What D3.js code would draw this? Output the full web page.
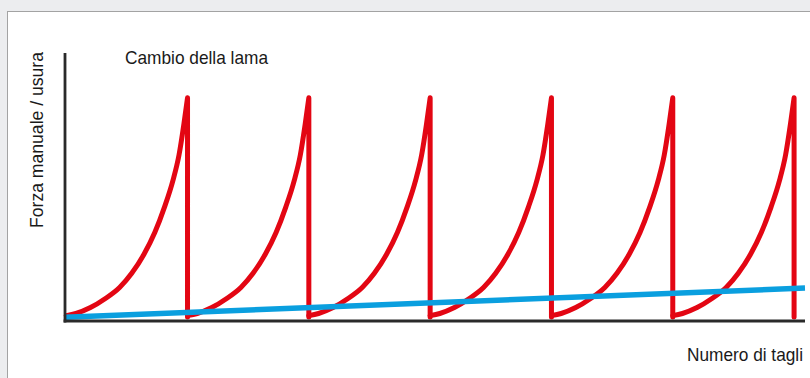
<!DOCTYPE html>
<html>
<head>
<meta charset="utf-8">
<script src="https://cdn.jsdelivr.net/npm/d3@7"></script>
<style>
  html, body { margin: 0; padding: 0; background: #ECEDEF; }
  svg { display: block; }
  text { font-family: "Liberation Sans Narrow", "Arial Narrow", "Liberation Sans", sans-serif; fill: #1a1a1a; }
</style>
</head>
<body>
<script>
// ---- Data ----
const bladeChangePeaks = [1.01, 2.01, 3.01, 4.01, 5.01, 6.01];          // number of cuts at which blade is changed
const toothOffsets = [-1.0, -0.92, -0.80, -0.68, -0.56, -0.46, -0.36, -0.27, -0.19, -0.12, -0.07, -0.03, 0]; // cuts relative to change
const toothForce   = [2.0, 2.8, 5.0, 8.3, 12.5, 17.8, 24.8, 33.0, 42.5, 52.5, 62.0, 73.5, 83.3];             // manual force
const dropForce = 1.5;                     // force right after blade change
const wearCuts = [0, 6.1];                 // wear line x
const wearValues = [1.4, 12.3];            // wear line y
const labels = { title: "Cambio della lama", yLabel: "Forza manuale / usura", xLabel: "Numero di tagli" };

// ---- Layout ----
const W = 810, H = 378;
const svg = d3.select("body").append("svg").attr("width", W).attr("height", H);

// panel frame
svg.append("rect").attr("x", 0).attr("y", 0).attr("width", W).attr("height", H).attr("fill", "#ECEDEF");
svg.append("rect").attr("x", 7.5).attr("y", 11.5).attr("width", W + 20).attr("height", H + 20)
  .attr("fill", "#ffffff").attr("stroke", "#a3a3a3").attr("stroke-width", 1);

const x = d3.scaleLinear().domain([0, 6.1]).range([65, 805]);
const y = d3.scaleLinear().domain([0, 100]).range([321, 53]);

// red sawtooth (force)
const rise = d3.line().x(d => x(d[0])).y(d => y(d[1])).curve(d3.curveMonotoneX);
const g = svg.append("g");
bladeChangePeaks.forEach((p, i) => {
  const pts = toothOffsets.map((o, j) => [Math.max(0, p + o), toothForce[j]]);
  const d = rise(pts) + "L" + x(p) + "," + y(dropForce);
  g.append("path").attr("d", d).attr("fill", "none")
    .attr("stroke", "#E30613").attr("stroke-width", 5)
    .attr("stroke-linejoin", "round").attr("stroke-linecap", "round");
});

// blue wear line
svg.append("path")
  .attr("d", d3.line().x(d => x(d[0])).y(d => y(d[1]))(wearCuts.map((c, i) => [c, wearValues[i]])))
  .attr("fill", "none").attr("stroke", "#0A9FDF").attr("stroke-width", 5.5);

// axes (plain lines, no ticks)
svg.append("line").attr("x1", x(0)).attr("x2", x(0)).attr("y1", 53).attr("y2", y(0) + 1.5)
  .attr("stroke", "#2a2a2a").attr("stroke-width", 2.8);
svg.append("line").attr("x1", x(0) - 1.4).attr("x2", x(6.1)).attr("y1", y(0)).attr("y2", y(0))
  .attr("stroke", "#2a2a2a").attr("stroke-width", 2.8);

// texts
svg.append("text").attr("x", 125).attr("y", 64).attr("font-size", 19)
  .attr("textLength", 143).attr("lengthAdjust", "spacingAndGlyphs").text(labels.title);
svg.append("text").attr("transform", "translate(42.5,140) rotate(-90)").attr("text-anchor", "middle")
  .attr("font-size", 19).attr("textLength", 176).attr("lengthAdjust", "spacingAndGlyphs").text(labels.yLabel);
svg.append("text").attr("x", 803).attr("y", 360.5).attr("text-anchor", "end").attr("font-size", 19)
  .attr("textLength", 116).attr("lengthAdjust", "spacingAndGlyphs").text(labels.xLabel);
</script>
</body>
</html>
